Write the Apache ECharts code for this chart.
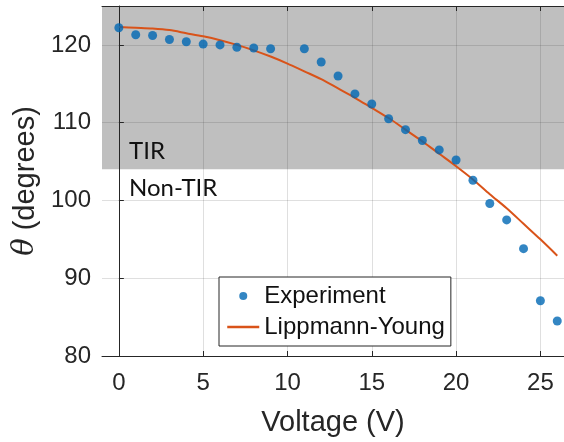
<!DOCTYPE html>
<html>
<head>
<meta charset="utf-8">
<script src="https://cdn.jsdelivr.net/npm/echarts@6/dist/echarts.min.js"></script>
<style>
html,body{margin:0;padding:0;background:#fff;}
#chart{width:564px;height:442px;}
</style>
</head>
<body>
<div id="chart"></div>
<script>
// Experimental points: voltage (V) and contact angle (degrees)
const expVoltage = [0,1,2,3,4,5,6,7,8,9,11,12,13,14,15,16,17,18,19,20,21,22,23,24,25,26];
const expAngle   = [122.2,121.3,121.2,120.7,120.4,120.1,120.0,119.7,119.6,119.5,119.5,117.8,116.0,113.7,112.4,110.5,109.1,107.7,106.5,105.2,102.6,99.6,97.5,93.8,87.1,84.5];

// Lippmann-Young curve
const lyVoltage = [0,1,2,3,4,5,6,7,8,9,10,11,12,13,14,15,16,17,18,19,20,21,22,23,24,25,26];
const lyAngle   = [122.3,122.2,122.1,121.9,121.5,121.1,120.6,120.0,119.3,118.5,117.6,116.6,115.6,114.4,113.2,111.9,110.6,109.1,107.6,106.0,104.4,102.7,100.8,99.0,97.0,95.0,92.9];

// TIR threshold band
const tirBand = [104, 125];
const nonTirBand = [80, 104];

const xTicks = [0,5,10,15,20,25];
const yTicks = [80,90,100,110,120];

const FONT = '"Liberation Sans", Arial, sans-serif';
const AX = '#262626';

const expData = expVoltage.map((v,i)=>[v, expAngle[i]]);
const lyData = lyVoltage.map((v,i)=>[v, lyAngle[i]]);

const chart = echarts.init(document.getElementById('chart'), null, {renderer:'canvas'});
chart.setOption({
  animation:false,
  backgroundColor:'#fff',
  grid:{left:102, top:6, right:0, bottom:83},
  legend:{
    left:219, top:277, orient:'vertical',
    backgroundColor:'#fff', borderColor:AX, borderWidth:1,
    padding:[7,6,7,7], itemGap:7, itemWidth:32, itemHeight:8,
    textStyle:{fontFamily:FONT, fontSize:24, color:'#111'},
    data:[
      {name:'Experiment'},
      {name:'Lippmann-Young', itemStyle:{opacity:0, borderWidth:0}, lineStyle:{width:2.5}}
    ]
  },
  xAxis:[{
    type:'value', min:-1, max:26.4, position:'bottom',
    name:'Voltage (V)', nameLocation:'middle', nameGap:52,
    nameTextStyle:{fontFamily:FONT, fontSize:29, color:AX},
    axisLine:{show:true, onZero:false, lineStyle:{color:AX, width:1}},
    axisTick:{show:true, inside:true, length:5, customValues:xTicks, lineStyle:{color:AX}},
    axisLabel:{customValues:xTicks, fontFamily:FONT, fontSize:24, color:AX, margin:15},
    splitLine:{show:true, lineStyle:{color:'rgba(38,38,38,0.15)', width:1}}
  },{
    type:'value', min:-1, max:26.4, position:'top',
    axisLine:{show:true, onZero:false, lineStyle:{color:AX, width:1}},
    axisTick:{show:true, inside:true, length:5, customValues:xTicks, lineStyle:{color:AX}},
    axisLabel:{show:false}, splitLine:{show:false}
  }],
  yAxis:{
    type:'value', min:80, max:125,
    name:'{i|θ} (degrees)', nameLocation:'middle', nameGap:54, nameRotate:90,
    nameTextStyle:{fontFamily:FONT, fontSize:29, color:AX,
      rich:{i:{fontFamily:'"DejaVu Serif", serif', fontStyle:'italic', fontSize:29, color:AX}}},
    axisLine:{show:true, lineStyle:{color:AX, width:1}},
    axisTick:{show:true, inside:true, length:5, customValues:yTicks, lineStyle:{color:AX}},
    axisLabel:{customValues:yTicks, fontFamily:FONT, fontSize:24, color:AX, margin:11},
    splitLine:{show:true, lineStyle:{color:'rgba(38,38,38,0.15)', width:1}}
  },
  series:[
    {
      name:'band', type:'line', data:[], z:-5, silent:true,
      markArea:{
        silent:true, z:-5,
        data:[
          [{yAxis:tirBand[0], itemStyle:{color:'#bfbfbf'},
            label:{show:true, formatter:'TIR', position:'insideBottomLeft', offset:[22,-1],
              fontFamily:'Lato, "Open Sans", sans-serif', fontSize:24, color:'#111'}},
           {yAxis:tirBand[1]}],
          [{yAxis:nonTirBand[1], itemStyle:{color:'rgba(0,0,0,0)'},
            label:{show:true, formatter:'Non-TIR', position:'insideTopLeft', offset:[22,2],
              fontFamily:'Lato, "Open Sans", sans-serif', fontSize:24, color:'#111'}},
           {yAxis:nonTirBand[0]}]
        ]
      }
    },
    {
      name:'Lippmann-Young', type:'line', data:lyData, showSymbol:false, symbol:'none',
      smooth:0.3, lineStyle:{color:'#D95319', width:2}, itemStyle:{color:'#D95319'}, z:3
    },
    {
      name:'Experiment', type:'scatter', data:expData, symbolSize:9,
      itemStyle:{color:'#0068B4'}, z:4
    }
  ]
});
</script>
</body>
</html>
